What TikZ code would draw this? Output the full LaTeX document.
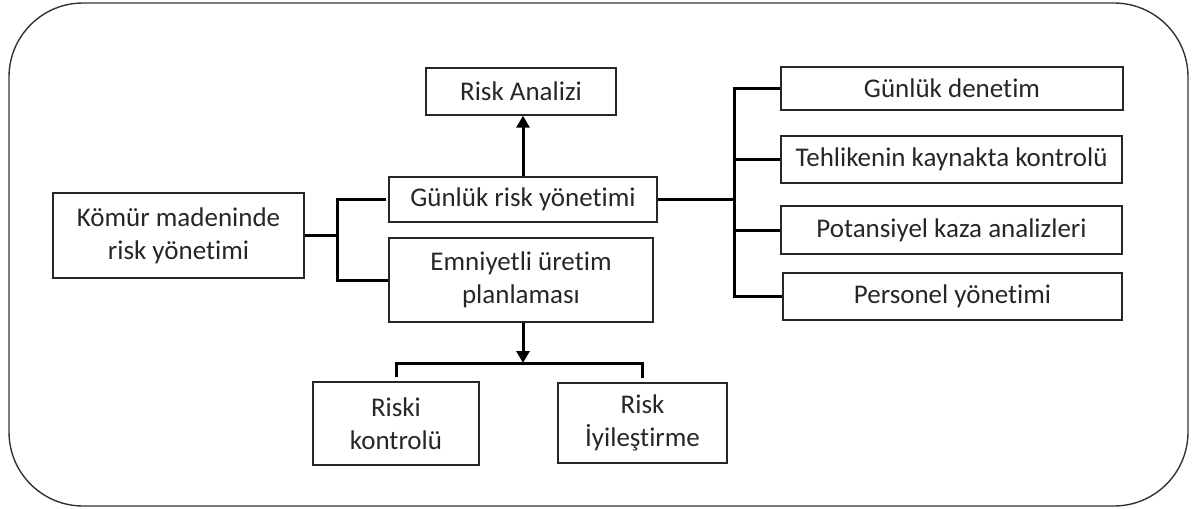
\documentclass[tikz,border=0pt]{standalone}
\usepackage{fontspec}
\setmainfont{Carlito}[Ligatures=NoCommon]
\usetikzlibrary{arrows.meta}
\begin{document}
\begin{tikzpicture}[x=0.5pt,y=-0.5pt,
  box/.style={draw=black!85, line width=0.7pt, rectangle, inner sep=0pt, align=center,
    font=\fontsize{13.5pt}{16.5pt}\selectfont, text=black!85},
  conn/.style={draw=black, line width=1.5pt, line join=miter},
  arr/.style={conn, -{Triangle[length=6pt,width=6.5pt]}}]
\useasboundingbox (0,0) rectangle (1195,509);
\draw[black!80, line width=0.7pt, rounded corners=37pt] (9,3) rectangle (1188,506);

\node[box, minimum width=125.5pt, minimum height=42.5pt] (komur) at (178.5,235.5) {Kömür madeninde\\risk yönetimi};
\node[box, minimum width=95pt, minimum height=23.5pt] (analiz) at (521,91.5) {Risk Analizi};
\node[box, minimum width=134pt, minimum height=22.5pt] (gunluk) at (523,199.5) {Günlük risk yönetimi};
\node[box, minimum width=132pt, minimum height=42pt] (emniyet) at (521,280) {Emniyetli üretim\\planlaması};
\node[box, minimum width=171pt, minimum height=21.5pt] (denetim) at (952,88.5) {Günlük denetim};
\node[box, minimum width=170.5pt, minimum height=23.5pt] (tehlike) at (951.5,159.5) {Tehlikenin kaynakta kontrolü};
\node[box, minimum width=170.5pt, minimum height=24pt] (potans) at (951.5,230) {Potansiyel kaza analizleri};
\node[box, minimum width=169.5pt, minimum height=23.5pt] (personel) at (952.5,296.5) {Personel yönetimi};
\node[box, minimum width=83pt, minimum height=41.5pt] (riski) at (396,423.5) {Riski\\kontrolü};
\node[box, minimum width=84.5pt, minimum height=40pt] (iyiles) at (642.5,423) {Risk\\İyileştirme};

\coordinate (lbx) at (337,0);
\coordinate (rbx) at (734,0);
\coordinate (bj) at (523,363);

% left bracket
\draw[conn] (komur.east) -- (komur.east -| lbx);
\draw[conn, shorten <=1pt] (gunluk.west) -- (gunluk.west -| lbx) -- (emniyet.west -| lbx) -- (emniyet.west);

% right bracket
\draw[conn] (gunluk.east) -- (gunluk.east -| rbx);
\draw[conn] (denetim.west) -- (denetim.west -| rbx) -- (personel.west -| rbx) -- (personel.west);
\draw[conn] (tehlike.west) -- (tehlike.west -| rbx);
\draw[conn] (potans.west) -- (potans.west -| rbx);

% arrow to risk analizi
\draw[arr] (gunluk.north) -- (gunluk.north |- analiz.south);

% bottom
\draw[arr] (emniyet.south -| bj) -- (bj);
\draw[conn] ([yshift=2pt]riski.north) -- (riski.north |- bj) -- (iyiles.north |- bj) -- ([yshift=2pt]iyiles.north);
\end{tikzpicture}
\end{document}
